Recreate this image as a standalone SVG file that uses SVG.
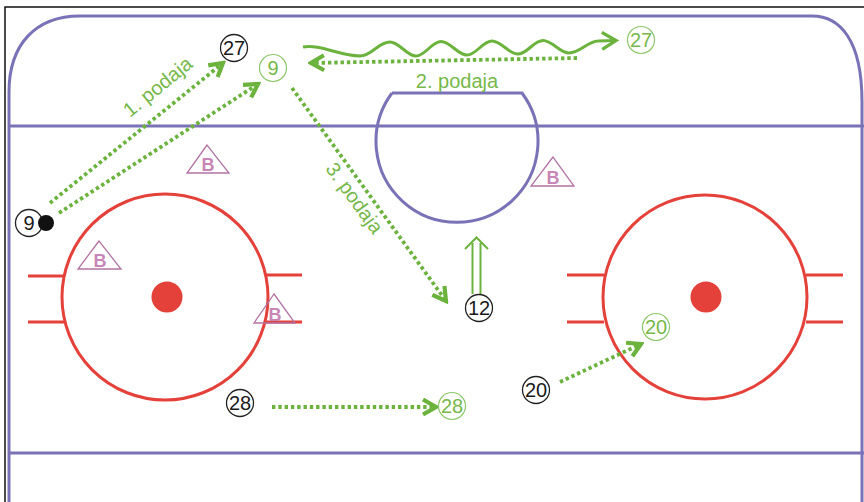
<svg xmlns="http://www.w3.org/2000/svg" width="864" height="502" viewBox="0 0 864 502">
<style>
.rink{fill:none;stroke:#7a72b6;stroke-width:3}
.red{fill:none;stroke:#e5413b;stroke-width:3}
.dot{fill:#e5413b}
.tri{fill:none;stroke:#b173a3;stroke-width:1.3}
.bt{font-family:"Liberation Sans",Arial,sans-serif;font-size:18px;fill:#c886b6;text-anchor:middle;font-weight:bold}
.pb circle{fill:#fff;stroke:#222;stroke-width:1.3}
.pb text{font-family:"Liberation Sans",Arial,sans-serif;font-size:20px;fill:#1a1a1a;text-anchor:middle}
.pg circle{fill:#fff;stroke:#8cc66a;stroke-width:1.2}
.pg text{font-family:"Liberation Sans",Arial,sans-serif;font-size:20px;fill:#76b84a;text-anchor:middle}
.dash{fill:none;stroke:#6cb33e;stroke-width:3.8;stroke-dasharray:3.4 2.9;marker-end:url(#ah)}
.wave{fill:none;stroke:#6cb33e;stroke-width:3;marker-end:url(#ahw)}
.lbl{font-family:"Liberation Sans",Arial,sans-serif;font-size:20px;fill:#76b84a;text-anchor:middle}
</style>
<defs>
<marker id="ah" markerUnits="userSpaceOnUse" viewBox="-16 -10 19 20" refX="0" refY="0" markerWidth="19" markerHeight="20" orient="auto">
<path d="M-13,-7.5 L0,0 L-13,7.5" fill="none" stroke="#6cb33e" stroke-width="4.2"/>
</marker>
<marker id="ahw" markerUnits="userSpaceOnUse" viewBox="-18 -11 21 22" refX="0" refY="0" markerWidth="21" markerHeight="22" orient="auto">
<path d="M-14,-8.5 L0,0 L-14,8.5" fill="none" stroke="#6cb33e" stroke-width="3.2"/>
</marker>
</defs>
<rect x="0" y="0" width="864" height="502" fill="#fff"/>
<path d="M5,502 L5,7 L864,7" fill="none" stroke="#111" stroke-width="1.5"/>
<g id="rink">
<path class="rink" d="M9,502 L9,92 C9,45 35,16 80,16 L812,16 C840,16 862,40 862,102 L862,502"/>
<line class="rink" x1="9" y1="126" x2="864" y2="126"/>
<line class="rink" x1="9" y1="453" x2="864" y2="453"/>
<path class="rink" d="M392,93 L522,93 A81,81 0 1 1 392,93"/>
</g>
<g id="left-circle">
<circle class="red" cx="165" cy="297" r="103"/>
<circle class="dot" cx="167" cy="297" r="15.5"/>
<line class="red" x1="28" y1="276" x2="64" y2="276"/>
<line class="red" x1="28" y1="322" x2="64" y2="322"/>
<line class="red" x1="266" y1="275" x2="302" y2="275"/>
<line class="red" x1="266" y1="322" x2="302" y2="322"/>
</g>
<g id="right-circle">
<circle class="red" cx="705" cy="297" r="102"/>
<circle class="dot" cx="706" cy="297" r="15.5"/>
<line class="red" x1="567" y1="275" x2="604" y2="275"/>
<line class="red" x1="567" y1="322" x2="604" y2="322"/>
<line class="red" x1="806" y1="275" x2="843" y2="275"/>
<line class="red" x1="806" y1="322" x2="843" y2="322"/>
</g>
<g id="b1"><polygon class="tri" points="207,145 187,173 229,173"/><text class="bt" x="208" y="171">B</text></g>
<g id="b2"><polygon class="tri" points="553,157 531,186 574,186"/><text class="bt" x="553" y="184">B</text></g>
<g id="b3"><polygon class="tri" points="99,241 78,269 121,269"/><text class="bt" x="100" y="267">B</text></g>
<g id="b4"><polygon class="tri" points="274,294 254,323 295,323"/><text class="bt" x="275" y="321">B</text></g>
<g id="connectors">
<path class="dash" d="M50,203 L223,63"/>
<path class="dash" d="M59,213 L258,84"/>
<path class="wave" d="M303,47 C320,44 340,56 360,56 C372,56 378,42 390,42 C399.4,42 406.6,56 416,56 C425.4,56 431.6,41.5 441,41.5 C450.4,41.5 457.6,55 467,55 C476.4,55 482.6,41 492,41 C501.4,41 508.6,54 518,54 C527.4,54 533.6,40.5 543,40.5 C552.4,40.5 559.6,53 569,53 C580,53 588,41 598,41 L616,40.5"/>
<path class="dash" d="M577,58 L311,63"/>
<path class="dash" d="M292,88 L446,301"/>
<path class="dash" d="M272,407 L436,407"/>
<path class="dash" d="M560,382 L641,344"/>
<g id="skate-up" fill="none" stroke="#6cb33e" stroke-width="2">
<line x1="472.5" y1="294" x2="472.5" y2="243"/>
<line x1="480.5" y1="294" x2="480.5" y2="243"/>
<path d="M465,249 L476.5,237.5 L488,249"/>
</g>
</g>
<g id="labels">
<text class="lbl" transform="translate(162,92) rotate(-39)">1. podaja</text>
<text class="lbl" x="457" y="88">2. podaja</text>
<text class="lbl" transform="translate(349,202) rotate(54)">3. podaja</text>
</g>
<g id="p27a" class="pb"><circle cx="234" cy="48" r="13.5"/><text x="234" y="55">27</text></g>
<g id="p9g" class="pg"><circle cx="273" cy="68" r="13.5"/><text x="273" y="75">9</text></g>
<g id="p9a" class="pb"><circle cx="29" cy="223" r="13.5"/><text x="29" y="230">9</text><circle cx="46" cy="223" r="8" style="fill:#111;stroke:none"/></g>
<g id="p27g" class="pg"><circle cx="641" cy="40" r="13.5"/><text x="641" y="47">27</text></g>
<g id="p12" class="pb"><circle cx="479" cy="308" r="13.5"/><text x="479" y="315">12</text></g>
<g id="p28a" class="pb"><circle cx="240" cy="403" r="13.5"/><text x="240" y="410">28</text></g>
<g id="p28g" class="pg"><circle cx="452" cy="406" r="13.5"/><text x="452" y="413">28</text></g>
<g id="p20a" class="pb"><circle cx="536" cy="390" r="13.5"/><text x="536" y="397">20</text></g>
<g id="p20g" class="pg"><circle cx="656" cy="327" r="13.5"/><text x="656" y="334">20</text></g>
</svg>
